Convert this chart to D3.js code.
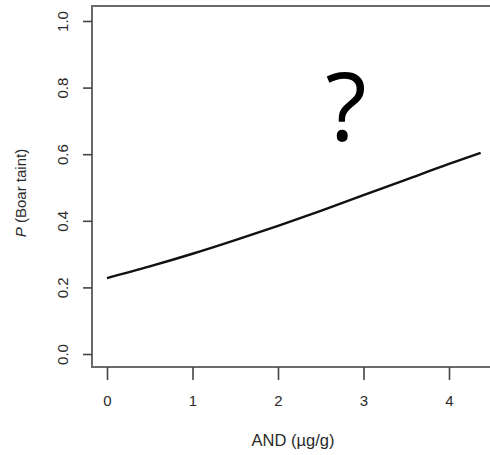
<!DOCTYPE html>
<html><head><meta charset="utf-8">
<script src="https://cdn.jsdelivr.net/npm/d3@7"></script>
<style>html,body{margin:0;padding:0;background:#fff;}svg{display:block;}</style>
</head><body>
<script>
const xTicks = [0, 1, 2, 3, 4];
const yTicks = [0.0, 0.2, 0.4, 0.6, 0.8, 1.0];
const andValues = [0, 0.5, 1, 1.5, 2, 2.5, 3, 3.5, 4, 4.37];
const probValues = [0.228, 0.263, 0.301, 0.342, 0.385, 0.430, 0.477, 0.524, 0.571, 0.604];
const xLabel = "AND (µg/g)";
const yLabelItalic = "P";
const yLabelRest = " (Boar taint)";
const mark = "?";

const W = 490, H = 455;
const svg = d3.select("body").append("svg").attr("width", W).attr("height", H);
const x = d3.scaleLinear().domain([0, 4]).range([107, 449]);
const y = d3.scaleLinear().domain([0, 1]).range([354, 21]);
const box = {l: 92, t: 6, b: 367, r: 500};
const axisCol = "#6a6a6a", textCol = "#2a2a2a";
const font = "Liberation Sans, Arial, sans-serif";

// box (right side runs past the picture)
svg.append("path")
  .attr("d", `M${box.r},${box.t}H${box.l}V${box.b}H${box.r}`)
  .attr("fill", "none").attr("stroke", axisCol).attr("stroke-width", 2);

// y axis
const yAxis = d3.axisLeft(y).tickValues(yTicks).tickSize(9).tickFormat(d3.format(".1f"));
const gy = svg.append("g").attr("transform", `translate(${box.l},0)`).call(yAxis);
gy.attr("font-size", 15).attr("font-family", font);
gy.select(".domain").remove();
gy.selectAll(".tick line").attr("stroke", "#444").attr("stroke-width", 1.6);
gy.selectAll(".tick text")
  .attr("x", 0).attr("dy", null)
  .attr("transform", `translate(${62 - box.l},0) rotate(-90)`)
  .attr("text-anchor", "middle").attr("dominant-baseline", "central")
  .attr("fill", textCol);

// x axis
const xAxis = d3.axisBottom(x).tickValues(xTicks).tickSize(13).tickFormat(d3.format("d"));
const gx = svg.append("g").attr("transform", `translate(0,${box.b})`).call(xAxis);
gx.attr("font-size", 15).attr("font-family", font);
gx.select(".domain").remove();
gx.selectAll(".tick line").attr("stroke", "#444").attr("stroke-width", 1.6);
gx.selectAll(".tick text")
  .attr("y", 33).attr("dy", null).attr("dominant-baseline", "central")
  .attr("fill", textCol);

// curve
const data = andValues.map((v, i) => [v, probValues[i]]);
svg.append("path").datum(data)
  .attr("d", d3.line().x(d => x(d[0])).y(d => y(d[1])).curve(d3.curveMonotoneX))
  .attr("fill", "none").attr("stroke", "#111").attr("stroke-width", 2.4);

// axis titles
svg.append("text")
  .attr("x", 293).attr("y", 440).attr("text-anchor", "middle").attr("dominant-baseline", "central")
  .attr("font-family", font).attr("font-size", 16.5)
  .attr("fill", textCol).text(xLabel);

const yl = svg.append("text")
  .attr("transform", "translate(20,193) rotate(-90)")
  .attr("text-anchor", "middle").attr("dominant-baseline", "central")
  .attr("font-family", font).attr("font-size", 15)
  .attr("fill", textCol);
yl.append("tspan").attr("font-style", "italic").text(yLabelItalic);
yl.append("tspan").text(yLabelRest);

// question mark
svg.append("text")
  .attr("x", 346).attr("y", 141).attr("text-anchor", "middle")
  .attr("font-family", "Open Sans, Noto Sans, sans-serif").attr("font-size", 96)
  .attr("fill", "#000").text(mark);
</script>
</body></html>
